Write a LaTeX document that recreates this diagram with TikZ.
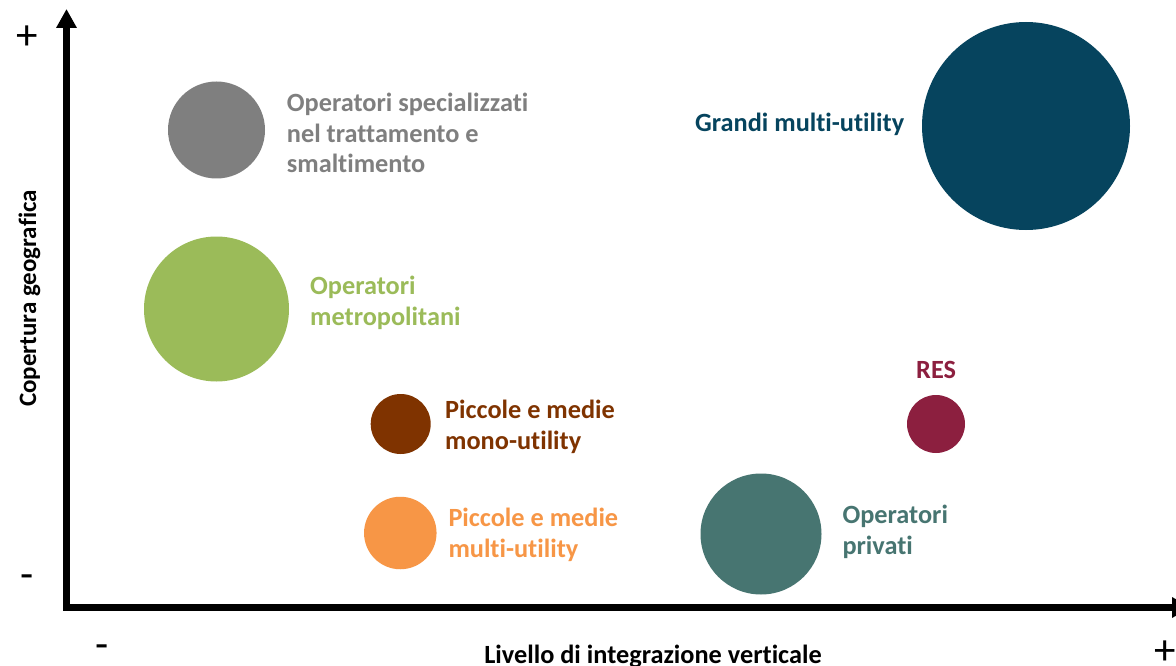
\documentclass[tikz,border=0pt]{standalone}
\usepackage{fontspec}
\setmainfont{Carlito}[Ligatures=NoCommon]
\usetikzlibrary{arrows.meta}
\definecolor{cgray}{HTML}{7F7F7F}
\definecolor{cgreen}{HTML}{9BBB59}
\definecolor{cbrown}{HTML}{7F3300}
\definecolor{corange}{HTML}{F79646}
\definecolor{cteal}{HTML}{477571}
\definecolor{cres}{HTML}{8C1F3F}
\definecolor{cblue}{HTML}{06445E}
\begin{document}
\begin{tikzpicture}[x=1pt,y=-1pt,
  lbl/.style={font=\bfseries\fontsize{26.3}{31}\selectfont, align=left, anchor=base west, inner sep=0pt},
  blob/.style={circle, inner sep=0pt, minimum size=#1, draw=none},
  axis/.style={line width=6.5pt, line join=miter, {Triangle[length=19pt,width=19.5pt]}-{Triangle[length=19pt,width=19.5pt]}},
  sign/.style={font=\fontsize{43}{43}\selectfont, inner sep=0pt},
  axlbl/.style={font=\bfseries\fontsize{25}{30}\selectfont, inner sep=0pt, anchor=base}]
\useasboundingbox (0,0) rectangle (1176,666);
\fill[white] (0,0) rectangle (1176,666);
% axes
\coordinate (ytop) at (66.5,9);
\coordinate (origin) at (66.5,607.5);
\coordinate (xend) at (1191,607.5);
\draw[axis] (ytop) -- (origin) -- (xend);
% signs
\node[sign] (yplus) at (27,38) {+};
\node[sign] (yminus) at (27,581.5) {-};
\node[sign] (xminus) at (102,651.5) {-};
\node[sign] (xplus) at (1165,653) {+};
% axis labels
\node[axlbl, rotate=90] (ylab) at (36,298.5) {Copertura geografica};
\node[axlbl, font=\bfseries\fontsize{26.3}{30}\selectfont] (xlab) at (653,663) {Livello di integrazione verticale};
% circles
\node[blob=97pt, fill=cgray] (cgr) at (216.5,130) {};
\node[blob=145pt, fill=cgreen] (cgn) at (216.5,309) {};
\node[blob=60pt, fill=cbrown] (cbr) at (400.7,424) {};
\node[blob=72.5pt, fill=corange] (cor) at (400.3,533) {};
\node[blob=121pt, fill=cteal] (ctl) at (761,534) {};
\node[blob=58pt, fill=cres] (crs) at (936,424) {};
\node[blob=208pt, fill=cblue] (cbl) at (1026,126) {};
% labels (anchored at the baseline of the last line)
\node[lbl, text=cgray] (tgr) at (286.7,173) {Operatori specializzati\\nel trattamento e\\smaltimento};
\node[lbl, text=cgreen] (tgn) at (310,325) {Operatori\\metropolitani};
\node[lbl, text=cbrown] (tbr) at (445,449.5) {Piccole e medie\\mono-utility};
\node[lbl, text=corange] (tor) at (448.3,557) {Piccole e medie\\multi-utility};
\node[lbl, text=cteal] (ttl) at (842.3,554) {Operatori\\privati};
\node[lbl, text=cres] (trs) at (916,378.3) {RES};
\node[lbl, text=cblue] (tbl) at (695,131.7) {Grandi multi-utility};
\end{tikzpicture}
\end{document}
